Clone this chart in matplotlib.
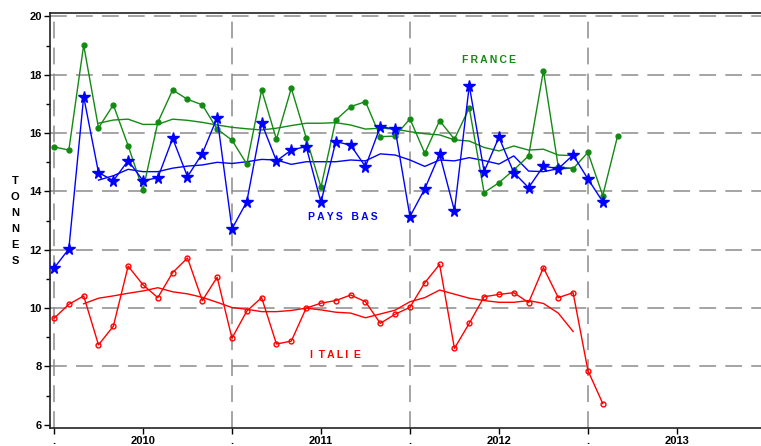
import matplotlib
matplotlib.use("Agg")
import matplotlib.pyplot as plt
import numpy as np

plt.rcParams['font.family'] = ['Liberation Sans', 'DejaVu Sans']

# month index 0 = January 2010
france = [15.53, 15.42, 19.02, 16.18, 16.97, 15.57, 14.05, 16.37, 17.48, 17.16,
          16.97, 16.14, 15.76, 14.94, 17.48, 15.79, 17.54, 15.85, 14.15, 16.45,
          16.91, 17.08, 15.88, 15.90, 16.49, 15.31, 16.43, 15.79, 16.87, 13.96,
          14.30, 14.74, 15.22, 18.14, 14.85, 14.78, 15.34, 13.86, 15.90]
pays_bas = [11.37, 12.03, 17.25, 14.65, 14.37, 15.06, 14.37, 14.47, 15.82, 14.51,
            15.30, 16.53, 12.72, 13.65, 16.34, 15.05, 15.42, 15.54, 13.63, 15.71,
            15.59, 14.85, 16.22, 16.14, 13.14, 14.09, 15.28, 13.34, 17.63, 14.68,
            15.86, 14.65, 14.13, 14.87, 14.78, 15.25, 14.43, 13.65]
italie = [9.65, 10.13, 10.42, 8.74, 9.38, 11.44, 10.80, 10.36, 11.22, 11.72,
          10.26, 11.06, 8.97, 9.90, 10.36, 8.77, 8.87, 10.00, 10.17, 10.26,
          10.45, 10.22, 9.48, 9.79, 10.03, 10.87, 11.50, 8.62, 9.48, 10.39,
          10.47, 10.53, 10.19, 11.39, 10.36, 10.53, 7.86, 6.73]

# trend lines
france_tr = [16.34, 16.45, 16.48, 16.30, 16.30, 16.48, 16.44, 16.37, 16.28, 16.20,
             16.15, 16.11, 16.17, 16.26, 16.34, 16.34, 16.36, 16.28, 16.14, 16.17,
             16.14, 16.05, 15.98, 15.94, 15.77, 15.73, 15.51, 15.39, 15.56, 15.42,
             15.45, 15.25, 15.23]
pays_bas_tr = [14.39, 14.54, 14.76, 14.68, 14.68, 14.80, 14.87, 14.91, 15.00, 14.96,
               15.02, 15.10, 15.08, 14.93, 15.02, 15.02, 15.02, 15.08, 15.05, 15.29,
               15.25, 15.08, 14.86, 15.08, 15.05, 15.16, 15.06, 14.94, 15.22, 14.70,
               14.68, 14.78, 14.80]
italie_tr = [10.15, 10.34, 10.42, 10.51, 10.59, 10.70, 10.56, 10.49, 10.37, 10.20,
             10.02, 9.96, 9.88, 9.88, 9.92, 10.00, 9.94, 9.86, 9.83, 9.67,
             9.80, 9.93, 10.22, 10.36, 10.62, 10.48, 10.34, 10.26, 10.20, 10.20,
             10.26, 10.16, 9.83, 9.20]

years = ['2010', '2011', '2012', '2013']

fig = plt.figure(figsize=(7.61, 4.46), dpi=100)
ax = fig.add_axes([50/761, 18/446, 1 - 50/761, 415/446])

ax.set_xlim(-0.27, 47.67)
ax.set_ylim(5.89, 20.12)

grid_kw = dict(color='#8c8c8c', lw=1.1, dashes=(11, 6), zorder=0)
for v in range(8, 21, 2):
    ax.axhline(v, **grid_kw)
for m in range(0, 48, 12):
    ax.axvline(m, **grid_kw)

green = '#138a13'
blue = '#0000ff'
red = '#ff0000'

ax.plot(np.arange(len(france)), france, color=green, lw=1, marker='o', ms=3.5, zorder=3)
ax.plot(np.arange(3, 3 + len(france_tr)), france_tr, color=green, lw=1, zorder=2)

ax.plot(np.arange(len(pays_bas)), pays_bas, color=blue, lw=1, marker='*', ms=8.5, zorder=4)
ax.plot(np.arange(3, 3 + len(pays_bas_tr)), pays_bas_tr, color=blue, lw=1, zorder=2)

ax.plot(np.arange(len(italie)), italie, color=red, lw=1, marker='o', ms=3.5,
        mfc='none', mew=1, zorder=3)
ax.plot(np.arange(2, 2 + len(italie_tr)), italie_tr, color=red, lw=1, zorder=2)

lab_kw = dict(fontsize=7.5, fontweight='bold', ha='center', va='center')
ax.text(29.3, 18.5, 'F R A N C E'.replace(' ', '\u2009'), color=green, **lab_kw)
ax.text(19.5, 13.13, 'P\u2009A\u2009Y\u2009S   B\u2009A\u2009S', color=blue, **lab_kw)
ax.text(19.0, 8.4, 'I  T\u2009A\u2009L\u2009I  E', color=red, **lab_kw)

ax.spines['right'].set_visible(False)
for s in ['left', 'top', 'bottom']:
    ax.spines[s].set_linewidth(1.2)
    ax.spines[s].set_color('#222222')

ax.set_yticks(range(6, 21, 2))
ax.set_yticklabels([str(v) for v in range(6, 21, 2)], fontsize=8, fontweight='bold')
ax.set_yticks(range(7, 20, 2), minor=True)
ax.tick_params(axis='y', which='major', length=4, width=1, pad=2)
ax.tick_params(axis='y', which='minor', length=3, width=1)

xt = []
xl = []
for i, y in enumerate(years):
    xt += [12 * i, 12 * i + 6]
    xl += ['.', y]
ax.set_xticks(xt)
ax.set_xticklabels(xl, fontsize=8, fontweight='bold')
ax.tick_params(axis='x', length=4, width=1, pad=2)

fig.text(15/761, 1 - 221/446, 'T\nO\nN\nN\nE\nS', fontsize=8, fontweight='bold',
         ha='center', va='center', linespacing=1.75)

fig.savefig('out.png', dpi=100)
